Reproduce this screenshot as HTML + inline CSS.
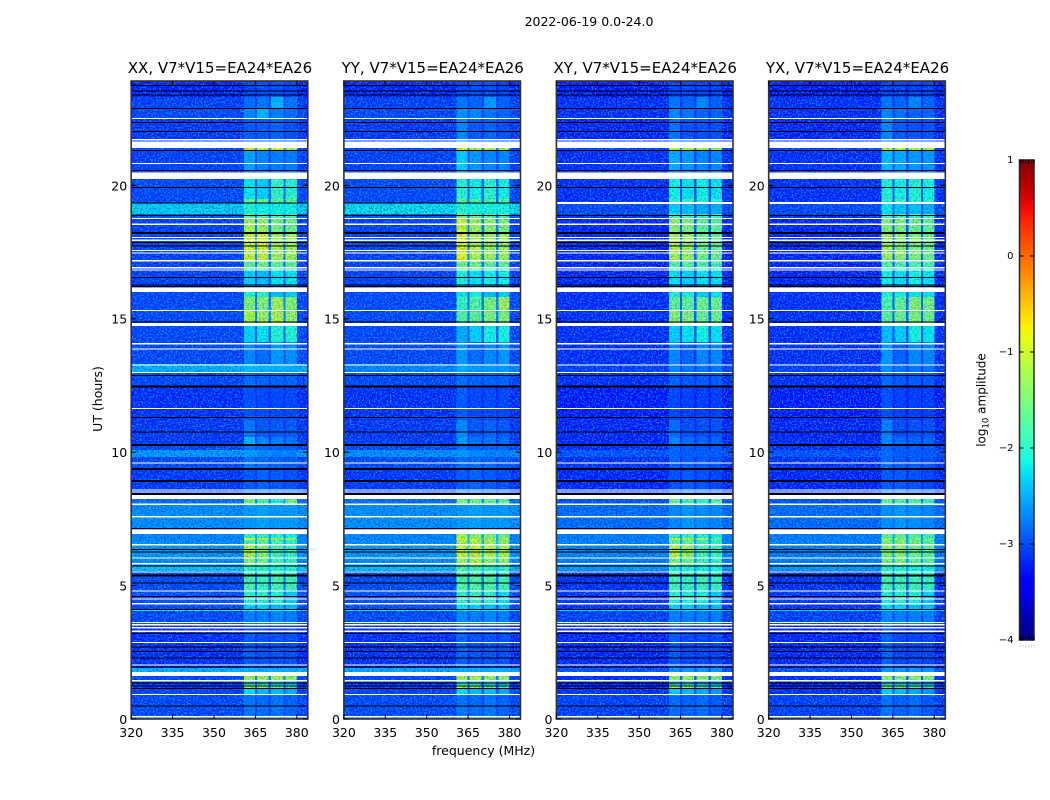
<!DOCTYPE html>
<html lang="en">
<head>
<meta charset="utf-8">
<title>2022-06-19 0.0-24.0</title>
<style>
html,body{margin:0;padding:0;background:#fff;width:1050px;height:800px;overflow:hidden}
svg{display:block}
text{font-family:"DejaVu Sans","Liberation Sans",sans-serif;fill:#000}
.cell,.mask{shape-rendering:crispEdges}
</style>
</head>
<body>
<svg id="chart" xmlns="http://www.w3.org/2000/svg" width="1050" height="800" viewBox="0 0 1050 800">
  <defs>
    <filter id="speckle-light" x="0" y="0" width="100%" height="100%" color-interpolation-filters="sRGB">
      <feTurbulence type="fractalNoise" baseFrequency="0.62" numOctaves="1" seed="3"/>
      <feColorMatrix type="matrix" values="0 0 0 0 0  0 0 0 0 0.72  0 0 0 0 1  7 0 0 0 -3.4"/>
    </filter>
    <filter id="speckle-dark" x="0" y="0" width="100%" height="100%" color-interpolation-filters="sRGB">
      <feTurbulence type="fractalNoise" baseFrequency="0.62" numOctaves="1" seed="11"/>
      <feColorMatrix type="matrix" values="0 0 0 0 0  0 0 0 0 0  0 0 0 0 0.72  0 7 0 0 -3.5"/>
    </filter>
    <linearGradient id="jet-gradient" x1="0" y1="1" x2="0" y2="0"></linearGradient>
  </defs>
  <text x="589" y="26" text-anchor="middle" font-size="12.5">2022-06-19 0.0-24.0</text>
  <text x="483.5" y="755" text-anchor="middle" font-size="12.5">frequency (MHz)</text>
  <text transform="translate(102,399) rotate(-90)" text-anchor="middle" font-size="12.5">UT (hours)</text>
  <g id="panels"></g>
  <g id="colorbar"></g>
  <text transform="translate(985.5,400) rotate(-90)" text-anchor="middle" font-size="12">log<tspan font-size="8.5" dy="3">10</tspan><tspan dy="-3"> amplitude</tspan></text>
</svg>
<script>
// Axis tick labels
const xTicks = [320, 335, 350, 365, 380];
const yTicks = [0, 5, 10, 15, 20];
const colorTicks = [1, 0, -1, -2, -3, -4];
const panelNames = ['XX', 'YY', 'XY', 'YX'];

// Frequency column edges in MHz: background, 4 sub-bands with gaps, background
const freqEdges = [320, 360.8, 364.8, 365.6, 369.8, 370.7, 375.2, 376, 380, 384];

// Time row edges in UT hours (top to bottom)
const timeEdges = [23.91,23.31,22.90,22.53,21.70,21.40,21.30,20.58,20.24,19.49,19.34,18.93,18.74,18.25,17.20,16.83,16.27,16.00,15.82,15.33,14.73,14.13,13.31,13.01,12.48,11.21,10.57,10.27,10.08,9.82,9.41,8.58,8.25,8.06,7.16,6.93,6.78,6.71,6.52,6.07,5.73,5.55,4.84,4.31,4.12,4.05,3.56,1.91,1.76,1.61,1.42,1.27,1.16,0.90,0.11,0];

// log10 amplitude per time row: [background, sub-band 1, 2, 3, 4]
const levelsXX = [
[-3.25,-3.05,-3,-3,-3.05],[-3.1,-2.85,-2.8,-2.45,-2.8],[-3.05,-2.7,-2.45,-2.75,-2.85],[-3.15,-2.95,-2.95,-2.9,-3],[-3.1,-2.9,-2.9,-2.9,-2.9],
[-3.05,-0.65,-1,-0.8,-1.1],[-3.1,-2.55,-2.7,-2.75,-2.75],[-3,-2.7,-2.7,-2.7,-2.7],[-3.05,-2.2,-2.3,-1.9,-1.95],[-3.05,-1.5,-1.5,-1.6,-1.5],
[-2.28,-2,-2.1,-2.1,-2.1],[-3,-1.6,-1.6,-1.7,-1.7],[-3.1,-1.15,-1.2,-1.45,-1.5],[-3.1,-0.95,-0.85,-1.15,-1.2],[-3.1,-1.6,-1.5,-1.6,-1.6],
[-3.1,-2.3,-2.4,-2.2,-2.2],[-3.1,-2.5,-2.5,-2.5,-2.5],[-3.05,-2,-1.9,-2.4,-2.3],[-3.05,-1.4,-1.35,-1.15,-1.35],[-3.05,-1.15,-1.2,-1.1,-1.25],
[-3.05,-2.3,-2.2,-2,-2],[-3.05,-2.7,-2.85,-2.6,-2.65],[-2.45,-2.4,-2.45,-2.5,-2.5],[-3.05,-2.85,-2.9,-2.9,-2.9],[-3.2,-3,-3.05,-3.05,-3.05],
[-3.15,-2.8,-2.95,-2.95,-2.95],[-3.15,-2.45,-2.7,-2.75,-2.8],[-3.05,-2.8,-2.9,-2.9,-2.9],[-2.6,-2.6,-2.7,-2.75,-2.75],[-3.05,-2.8,-2.85,-2.9,-2.95],
[-3.15,-2.95,-2.9,-2.95,-3],[-3.1,-2.8,-2.7,-2.8,-2.8],[-2.85,-1.45,-1.75,-1.95,-1.5],[-2.65,-2.6,-2.55,-2.6,-2.6],[-2.7,-2.3,-2.3,-2.3,-2.4],
[-2.7,-1.9,-1.9,-2,-2.1],[-2.7,-0.85,-1,-1.1,-1.3],[-2.65,-1.7,-1.6,-1.8,-1.9],[-2.6,-1.05,-1.3,-1.75,-1.85],[-2.65,-1.4,-1.5,-1.8,-1.9],
[-2.35,-1.9,-1.9,-2,-2],[-3.05,-1.75,-1.85,-1.75,-1.8],[-3,-1.95,-1.95,-2,-2.3],[-3.05,-2.3,-2.3,-2.4,-2.4],[-1.95,-1.95,-1.95,-1.95,-1.95],
[-3.05,-2.75,-2.75,-2.7,-2.75],[-3.2,-2.95,-3,-3,-3],[-2.45,-2.45,-2.5,-2.5,-2.5],[-3,-2.6,-2.6,-2.6,-2.6],[-3.05,-1.2,-1.2,-1.2,-1.3],
[-3.2,-2.3,-2.3,-2.4,-2.5],[-3.15,-1,-1.1,-1.5,-1.7],[-3.1,-2.2,-2.4,-2.4,-2.5],[-3.05,-2.8,-2.85,-2.8,-2.9],[-3,-2.8,-2.8,-2.8,-2.8]
];
const levelsYY = [
[-3.25,-3.05,-3,-3,-3.05],[-3.1,-2.8,-2.9,-2.6,-2.9],[-3.05,-2.65,-2.7,-2.8,-2.9],[-3.15,-2.7,-2.95,-2.9,-3],[-3.1,-2.6,-2.9,-2.9,-2.9],
[-3.05,-0.75,-1,-0.9,-1.1],[-3.1,-2.3,-2.6,-2.7,-2.7],[-3,-2.6,-2.7,-2.7,-2.7],[-3.05,-1.95,-2.1,-1.95,-2.1],[-3.05,-1.6,-1.6,-1.7,-1.6],
[-2.2,-1.95,-2.05,-2.05,-2.05],[-3,-1.4,-1.5,-1.6,-1.7],[-3.1,-0.95,-1.2,-1.3,-1.4],[-3.1,-0.8,-1.1,-1.2,-1.2],[-3.1,-1.5,-1.5,-1.6,-1.6],
[-3.1,-2,-2.2,-2.1,-2.1],[-3.1,-2.4,-2.4,-2.4,-2.4],[-3.05,-2.2,-2.1,-2.4,-2.3],[-3.05,-1.9,-1.7,-1.4,-1.15],[-3.05,-1.7,-1.6,-1.4,-1.35],
[-3.05,-2.5,-2.3,-2.1,-2.1],[-3.05,-2.6,-2.85,-2.7,-2.6],[-2.7,-2.5,-2.6,-2.6,-2.6],[-3.05,-2.85,-2.9,-2.9,-2.9],[-3.2,-2.95,-3.05,-3.05,-3.05],
[-3.15,-2.7,-2.95,-2.9,-2.95],[-3.15,-2.6,-2.8,-2.8,-2.85],[-3.05,-2.8,-2.9,-2.9,-2.9],[-2.65,-2.6,-2.7,-2.75,-2.75],[-3.05,-2.85,-2.85,-2.9,-2.95],
[-3.15,-2.95,-2.9,-2.95,-3],[-3.1,-2.7,-2.7,-2.8,-2.8],[-2.85,-1.4,-1.5,-1.5,-1.6],[-2.65,-2.6,-2.55,-2.6,-2.6],[-2.7,-2.2,-2.2,-2.3,-2.4],
[-2.7,-1.2,-1.3,-1.4,-1.5],[-2.7,-0.8,-0.95,-1,-1.1],[-2.65,-1.1,-1.1,-1.2,-1.25],[-2.6,-0.95,-0.95,-1,-1.1],[-2.65,-1.2,-1.05,-1.3,-1.3],
[-2.4,-1.7,-1.8,-1.9,-1.9],[-3.05,-1.7,-1.7,-1.7,-1.75],[-3,-1.9,-1.85,-1.9,-2.2],[-3.05,-2.2,-2.3,-2.4,-2.4],[-2,-2,-2,-2,-2],
[-3.05,-2.7,-2.75,-2.7,-2.75],[-3.2,-2.9,-3,-3,-3],[-2.5,-2.5,-2.5,-2.5,-2.5],[-3,-2.6,-2.6,-2.6,-2.6],[-3.05,-1.15,-1.15,-1.2,-1.3],
[-3.2,-2.2,-2.3,-2.4,-2.5],[-3.15,-1.05,-1.15,-1.5,-1.7],[-3.1,-2.2,-2.4,-2.4,-2.5],[-3.05,-2.8,-2.85,-2.8,-2.9],[-3,-2.8,-2.8,-2.8,-2.8]
];
const levelsXY = [
[-3.3,-3.05,-3.05,-3.05,-3.05],[-3.2,-2.8,-2.9,-2.7,-2.9],[-3.2,-2.7,-2.8,-2.9,-2.9],[-3.25,-2.8,-3,-3,-3],[-3.2,-2.8,-2.9,-2.9,-2.9],
[-3.1,-1,-1,-1.1,-1.2],[-3.2,-2.5,-2.6,-2.7,-2.7],[-3.1,-2.7,-2.7,-2.7,-2.7],[-3.2,-2.1,-2.2,-2.1,-2.2],[-3.2,-1.8,-1.8,-1.9,-1.9],
[-3.05,-2.3,-2.4,-2.5,-2.5],[-3.2,-1.7,-1.7,-1.8,-1.8],[-3.25,-1.25,-1.35,-1.6,-1.6],[-3.25,-1.1,-1.2,-1.5,-1.5],[-3.25,-1.7,-1.7,-1.7,-1.8],
[-3.25,-2.2,-2.3,-2.2,-2.2],[-3.2,-2.5,-2.5,-2.5,-2.5],[-3.2,-2,-2.1,-2.3,-2.2],[-3.2,-1.6,-1.6,-1.5,-1.5],[-3.2,-1.3,-1.35,-1.5,-1.5],
[-3.2,-2.3,-2.2,-2.1,-2.2],[-3.2,-2.7,-2.9,-2.7,-2.7],[-3.1,-2.7,-2.8,-2.8,-2.8],[-3.2,-2.9,-2.95,-2.95,-2.95],[-3.3,-3.05,-3.1,-3.1,-3.1],
[-3.25,-2.85,-3,-3,-3],[-3.25,-2.7,-2.85,-2.9,-2.9],[-3.2,-2.9,-2.95,-2.95,-2.95],[-3,-2.9,-2.95,-2.95,-2.95],[-3.2,-2.9,-2.95,-2.95,-3],
[-3.25,-3,-2.95,-3,-3.05],[-3.2,-2.8,-2.7,-2.8,-2.8],[-3,-1.5,-1.7,-1.9,-1.6],[-2.85,-2.7,-2.6,-2.65,-2.7],[-2.8,-2.4,-2.4,-2.4,-2.5],
[-2.75,-1.9,-1.9,-2,-2.1],[-2.75,-0.85,-1,-1.2,-1.6],[-2.7,-1.6,-1.6,-1.8,-1.9],[-2.7,-1,-1.2,-1.75,-1.85],[-2.75,-1.4,-1.5,-1.8,-1.9],
[-2.6,-2,-2,-2.1,-2.1],[-3.2,-1.75,-1.85,-1.8,-1.85],[-3.15,-1.95,-2,-2,-2.3],[-3.2,-2.3,-2.3,-2.4,-2.4],[-2.2,-2.2,-2.2,-2.2,-2.2],
[-3.1,-2.75,-2.75,-2.75,-2.75],[-3.25,-2.95,-3.05,-3.05,-3.05],[-3,-2.6,-2.6,-2.6,-2.6],[-3.1,-2.6,-2.6,-2.6,-2.6],[-3.2,-1.25,-1.3,-1.3,-1.4],
[-3.3,-2.4,-2.4,-2.5,-2.6],[-3.25,-1.15,-1.2,-1.6,-1.8],[-3.2,-2.3,-2.4,-2.5,-2.6],[-3.1,-2.85,-2.9,-2.85,-2.95],[-3.1,-2.85,-2.85,-2.85,-2.85]
];
const levelsYX = [
[-3.3,-3.05,-3.05,-3.05,-3.05],[-3.2,-2.8,-2.9,-2.7,-2.9],[-3.2,-2.7,-2.8,-2.9,-2.9],[-3.25,-2.7,-2.95,-3,-3],[-3.2,-2.7,-2.9,-2.9,-2.9],
[-3.1,-0.9,-1,-1,-1.1],[-3.2,-2.4,-2.5,-2.6,-2.6],[-3.1,-2.7,-2.7,-2.7,-2.7],[-3.2,-2,-2.1,-2,-2.1],[-3.2,-1.8,-1.8,-1.9,-1.9],
[-3.05,-2.2,-2.35,-2.4,-2.5],[-3.2,-1.7,-1.7,-1.8,-1.8],[-3.25,-1.35,-1.4,-1.5,-1.6],[-3.25,-1.2,-1.3,-1.4,-1.5],[-3.25,-1.7,-1.7,-1.75,-1.8],
[-3.25,-2.1,-2.2,-2.1,-2.2],[-3.2,-2.4,-2.5,-2.5,-2.5],[-3.2,-2,-2.1,-2.2,-2.2],[-3.2,-1.75,-1.55,-1.35,-1.45],[-3.2,-1.6,-1.5,-1.4,-1.5],
[-3.2,-2.4,-2.3,-2.1,-2.2],[-3.2,-2.6,-2.9,-2.7,-2.7],[-3.1,-2.65,-2.8,-2.8,-2.8],[-3.2,-2.85,-2.95,-2.95,-2.95],[-3.3,-3,-3.1,-3.1,-3.1],
[-3.25,-2.75,-3,-3,-3],[-3.25,-2.7,-2.85,-2.9,-2.9],[-3.2,-2.9,-2.95,-2.95,-2.95],[-3,-2.85,-2.95,-2.95,-2.95],[-3.2,-2.85,-2.95,-2.95,-3],
[-3.25,-2.95,-2.95,-3,-3.05],[-3.2,-2.7,-2.7,-2.8,-2.8],[-3,-1.5,-1.7,-1.7,-1.8],[-2.85,-2.65,-2.6,-2.65,-2.7],[-2.8,-2.3,-2.3,-2.4,-2.5],
[-2.75,-1.6,-1.6,-1.7,-1.8],[-2.75,-1.15,-1.2,-1.3,-1.5],[-2.7,-1.4,-1.35,-1.5,-1.6],[-2.75,-1.3,-1.3,-1.5,-1.6],[-2.75,-1.45,-1.4,-1.6,-1.65],
[-2.6,-1.9,-2,-2.1,-2.1],[-3.2,-1.75,-1.8,-1.8,-1.85],[-3.15,-1.95,-1.95,-2,-2.3],[-3.2,-2.25,-2.3,-2.4,-2.4],[-2.2,-2.2,-2.2,-2.2,-2.2],
[-3.1,-2.7,-2.75,-2.75,-2.75],[-3.25,-2.9,-3.05,-3.05,-3.05],[-3,-2.6,-2.6,-2.6,-2.6],[-3.1,-2.6,-2.6,-2.6,-2.6],[-3.2,-1.35,-1.35,-1.35,-1.45],
[-3.3,-2.35,-2.4,-2.5,-2.6],[-3.25,-1.25,-1.3,-1.6,-1.8],[-3.2,-2.3,-2.4,-2.5,-2.6],[-3.1,-2.8,-2.9,-2.85,-2.95],[-3.1,-2.85,-2.85,-2.85,-2.85]
];
const panelLevels = [levelsXX, levelsYY, levelsXY, levelsYX];

// Flagged integrations, in UT hours
const gapSpans = [[21.64,21.40],[20.48,20.24],[16.18,16.00],[14.85,14.73],[8.40,8.25],[7.10,6.93],[1.77,1.61]];
const crossHandGapSpans = [[19.38,19.30]];
const gapHours = [22.53,21.73,20.84,18.78,18.57,18.07,17.97,17.58,17.49,17.20,16.94,16.85,15.33,14.09,13.89,13.29,13.01,11.66,9.62,8.61,8.53,8.07,7.60,6.56,6.06,5.84,5.53,4.82,4.52,4.34,3.64,3.56,3.44,3.31,2.89,2.05,1.46,0.94,0.11];
const blackHours = [23.76,23.56,23.41,22.90,22.38,22.03,21.33,20.58,19.93,19.35,18.89,17.88,17.75,16.56,16.29,16.23,14.90,12.89,11.32,10.78,7.16,6.38,6.27,5.75,5.12,4.61,4.12,3.22,2.72,2.54,2.31,1.96,1.36,1.26,1.17,0.50];
const thickBlackHours = [18.25,12.49,10.30,9.41,8.95,8.47,5.41];

const SVG_NS = 'http://www.w3.org/2000/svg';
const PANEL_LEFTS = [131.2, 343.9, 556.4, 768.7];
const PANEL_WIDTH = 176.6, PLOT_TOP = 81, PLOT_BOTTOM = 719;
const FREQ_MIN = 320, FREQ_MAX = 384, HOUR_MAX = 23.91;
const GAP_LEAK = 0.2;

function node(tag, attrs, parent) {
  const el = document.createElementNS(SVG_NS, tag);
  for (const k in attrs) el.setAttribute(k, attrs[k]);
  parent.appendChild(el);
  return el;
}
function segment(t, pts) {
  if (t <= pts[0][0]) return pts[0][1];
  for (let i = 1; i < pts.length; i++) {
    if (t <= pts[i][0]) {
      return pts[i-1][1] + (pts[i][1] - pts[i-1][1]) * (t - pts[i-1][0]) / (pts[i][0] - pts[i-1][0]);
    }
  }
  return pts[pts.length-1][1];
}
function jet(t) {
  const r = segment(t, [[0.35,0],[0.66,1],[0.89,1],[1,0.5]]);
  const g = segment(t, [[0.125,0],[0.375,1],[0.64,1],[0.91,0]]);
  const b = segment(t, [[0,0.5],[0.11,1],[0.34,1],[0.65,0]]);
  return 'rgb(' + Math.round(r*255) + ',' + Math.round(g*255) + ',' + Math.round(b*255) + ')';
}
function levelColor(v) { return jet((v + 4) / 5); }
function yScale(h) { return PLOT_BOTTOM - (h / HOUR_MAX) * (PLOT_BOTTOM - PLOT_TOP); }
function makeXScale(left) { return f => left + (f - FREQ_MIN) / (FREQ_MAX - FREQ_MIN) * PANEL_WIDTH; }

function columnLevel(row, c) {
  if (c === 0 || c === 8) return row[0];
  if (c % 2 === 1) return row[(c + 1) / 2];
  const neighbours = (row[c / 2] + row[c / 2 + 1]) / 2;
  return row[0] + GAP_LEAK * (neighbours - row[0]);
}

const panelsRoot = document.getElementById('panels');
panelNames.forEach((name, p) => {
  const left = PANEL_LEFTS[p];
  const xScale = makeXScale(left);
  const g = node('g', {}, panelsRoot);
  
  

  const clipId = 'clip-' + name;
  const clip = node('clipPath', {id: clipId}, g);
  node('rect', {x: left, y: PLOT_TOP, width: PANEL_WIDTH, height: PLOT_BOTTOM - PLOT_TOP}, clip);
  const plot = node('g', {'clip-path': 'url(#' + clipId + ')'}, g);

  // heatmap cells
  panelLevels[p].forEach((row, r) => {
    const y0 = yScale(timeEdges[r]), y1 = yScale(timeEdges[r + 1]);
    for (let c = 0; c < freqEdges.length - 1; c++) {
      const x0 = xScale(freqEdges[c]), x1 = xScale(freqEdges[c + 1]);
      const cell = node('rect', {class: 'cell', x: x0.toFixed(2), y: y0.toFixed(2),
        width: (x1 - x0).toFixed(2), height: (y1 - y0 + 0.4).toFixed(2), fill: levelColor(columnLevel(row, c))}, plot);
      
      
    }
  });

  // receiver-noise texture (style only): strong over the background, fainter over the sub-bands
  const bandStart = xScale(freqEdges[1]), bandEnd = xScale(freqEdges[8]);
  [[left, bandStart, 0.62, 0.4], [bandStart, bandEnd, 0.35, 0.22], [bandEnd, left + PANEL_WIDTH, 0.62, 0.4]].forEach(zone => {
    const light = node('rect', {x: zone[0], y: PLOT_TOP, width: zone[1] - zone[0], height: PLOT_BOTTOM - PLOT_TOP, filter: 'url(#speckle-light)', opacity: zone[2]}, plot);
    
    
    const dark = node('rect', {x: zone[0], y: PLOT_TOP, width: zone[1] - zone[0], height: PLOT_BOTTOM - PLOT_TOP, filter: 'url(#speckle-dark)', opacity: zone[3]}, plot);
    
    
  });

  // flagged rows
  blackHours.forEach(h => {
    const m = node('rect', {class: 'mask', x: left, y: yScale(h).toFixed(1), width: PANEL_WIDTH, height: 1, fill: '#000'}, plot);
    
    
  });
  thickBlackHours.forEach(h => {
    const m = node('rect', {class: 'mask', x: left, y: yScale(h).toFixed(1), width: PANEL_WIDTH, height: 2, fill: '#000'}, plot);
    
    
  });
  gapHours.forEach(h => {
    const m = node('rect', {class: 'mask', x: left, y: yScale(h).toFixed(1), width: PANEL_WIDTH, height: 1.3, fill: '#fff'}, plot);
    
    
  });
  const panelSpans = p >= 2 ? gapSpans.concat(crossHandGapSpans) : gapSpans;
  panelSpans.forEach(s => {
    const m = node('rect', {class: 'mask', x: left, y: yScale(s[0]).toFixed(1), width: PANEL_WIDTH, height: (yScale(s[1]) - yScale(s[0])).toFixed(1), fill: '#fff'}, plot);
    
    
  });

  // frame
  const frame = node('rect', {x: left, y: PLOT_TOP, width: PANEL_WIDTH, height: PLOT_BOTTOM - PLOT_TOP, fill: 'none', stroke: '#333', 'stroke-width': 1.6}, g);
  
  

  // x ticks
  xTicks.forEach(f => {
    const x = xScale(f);
    const t1 = node('line', {x1: x, x2: x, y1: PLOT_BOTTOM, y2: PLOT_BOTTOM - 5, stroke: '#000'}, g);
    
    
    const t2 = node('line', {x1: x, x2: x, y1: PLOT_TOP, y2: PLOT_TOP + 5, stroke: '#000'}, g);
    
    
    const lab = node('text', {x: x, y: 737, 'text-anchor': 'middle', 'font-size': 12.5}, g);
    
    
    lab.textContent = f;
  });
  // y ticks
  yTicks.forEach(h => {
    const y = yScale(h);
    const t1 = node('line', {x1: left, x2: left + 5, y1: y, y2: y, stroke: '#000'}, g);
    
    
    const t2 = node('line', {x1: left + PANEL_WIDTH, x2: left + PANEL_WIDTH - 5, y1: y, y2: y, stroke: '#000'}, g);
    
    
    const lab = node('text', {x: left - 4, y: y + 5, 'text-anchor': 'end', 'font-size': 12.5}, g);
    
    
    lab.textContent = h;
  });
  // title
  const title = node('text', {x: left + PANEL_WIDTH / 2 + 0.5, y: 73, 'text-anchor': 'middle', 'font-size': 15}, g);
  
  
  title.textContent = name + ', V7*V15=EA24*EA26';
});

// Colorbar
const CB_LEFT = 1019.5, CB_WIDTH = 14.5, CB_TOP = 160, CB_BOTTOM = 640;
function cbY(v) { return CB_BOTTOM - (v + 4) / 5 * (CB_BOTTOM - CB_TOP); }
const grad = document.getElementById('jet-gradient');
for (let i = 0; i <= 40; i++) {
  node('stop', {offset: (i / 40), 'stop-color': jet(i / 40)}, grad);
}
const cb = document.getElementById('colorbar');
const cbFill = node('rect', {x: CB_LEFT, y: CB_TOP, width: CB_WIDTH, height: CB_BOTTOM - CB_TOP, fill: 'url(#jet-gradient)', stroke: '#222', 'stroke-width': 1.5}, cb);


colorTicks.forEach(v => {
  const y = cbY(v);
  const tl = node('line', {x1: CB_LEFT, x2: CB_LEFT + 4, y1: y, y2: y, stroke: '#000'}, cb);
  
  
  const tr = node('line', {x1: CB_LEFT + CB_WIDTH, x2: CB_LEFT + CB_WIDTH - 4, y1: y, y2: y, stroke: '#000'}, cb);
  
  
  const lab = node('text', {x: CB_LEFT - 6, y: y + 3, 'text-anchor': 'end', 'font-size': 10}, cb);
  
  
  lab.textContent = String(v).replace('-', '\u2212');
});
for (let i = 0; i < 6; i++) {
  const x = CB_LEFT + 0.5 + i * CB_WIDTH / 5 * 0.98;
  const a = node('line', {x1: x, x2: x, y1: CB_TOP, y2: CB_TOP + 4, stroke: '#000', 'stroke-width': 0.8}, cb);
  
  
  const b = node('line', {x1: x, x2: x, y1: CB_BOTTOM, y2: CB_BOTTOM - 4, stroke: '#000', 'stroke-width': 0.8}, cb);
  
  
  const d = node('rect', {x: x - 0.5, y: 645.5, width: 1, height: 1, fill: '#999'}, cb);
  
  
}
</script>
</body>
</html>
